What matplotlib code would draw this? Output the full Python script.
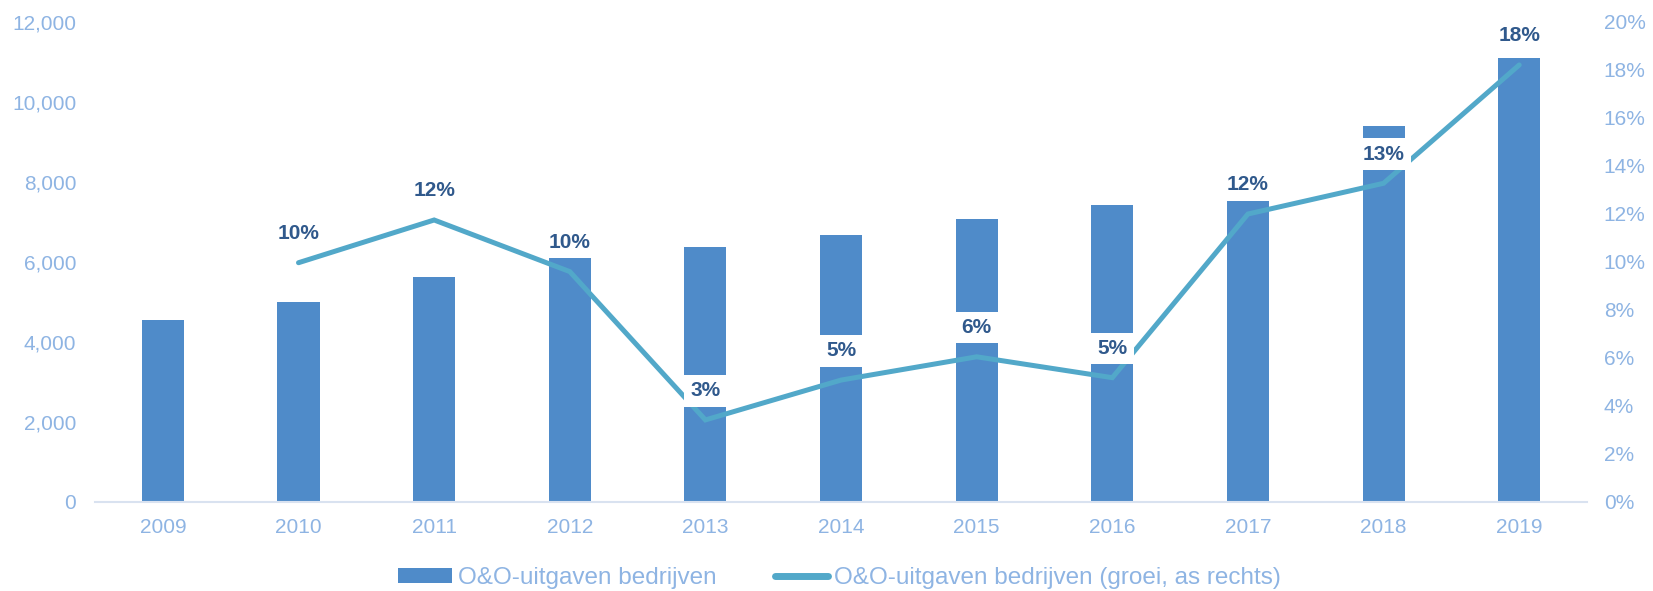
import matplotlib
matplotlib.use("Agg")
from matplotlib import pyplot as plt
from matplotlib.ticker import FuncFormatter, MultipleLocator

# jaren op de x-as
years = ['2009', '2010', '2011', '2012', '2013', '2014',
         '2015', '2016', '2017', '2018', '2019']
# O&O-uitgaven bedrijven (linker as)
uitgaven = [4550, 5000, 5610, 6150, 6360, 6670, 7070, 7420, 8200, 9380, 11090]
# groei t.o.v. vorig jaar (rechter as), 2009 heeft geen groeicijfer
groei_jaren = years[1:]
groei = [0.0995, 0.1173, 0.0958, 0.0340, 0.0506, 0.0603, 0.0516, 0.1198, 0.1326, 0.1819]
groei_labels = ['10%', '12%', '10%', '3%', '5%', '6%', '5%', '12%', '13%', '18%']

bar_color = '#4F8BC9'
line_color = '#52A8C9'
tick_color = '#8EB4E3'
label_color = '#30598C'
font = ['Liberation Sans', 'DejaVu Sans']
plt.rcParams['font.family'] = font

fig = plt.figure(figsize=(16.53, 5.91), dpi=100)
ax = fig.add_axes([0.0575, 0.1514, 0.9026, 0.8122])
ax2 = ax.twinx()

bars = ax.bar(years, uitgaven, width=0.31, color=bar_color, zorder=2)
line, = ax2.plot(groei_jaren, groei, color=line_color, lw=3.6,
                 solid_capstyle='round', solid_joinstyle='miter', zorder=2)

# labels met witte achtergrond, net als in excel
for yr, g, lab in zip(groei_jaren, groei, groei_labels):
    ax2.annotate(lab, (yr, g), xytext=(0, 21), textcoords='offset points',
                 ha='center', va='center', fontsize=15, fontweight='bold',
                 color=label_color, zorder=5,
                 bbox=dict(boxstyle='square,pad=0.3', fc='white', ec='none'))

ax.set_xlim(-0.5, 10.5)
ax.set_ylim(0, 12000)
ax2.set_ylim(0, 0.2)
ax.yaxis.set_major_locator(MultipleLocator(2000))
ax2.yaxis.set_major_locator(MultipleLocator(0.02))
ax.yaxis.set_major_formatter(FuncFormatter(lambda v, p: '{:,.0f}'.format(v)))
ax2.yaxis.set_major_formatter(FuncFormatter(lambda v, p: '{:.0f}%'.format(v * 100)))

for s in ['top', 'left', 'right']:
    ax.spines[s].set_visible(False)
    ax2.spines[s].set_visible(False)
ax2.spines['bottom'].set_visible(False)
ax.spines['bottom'].set_color('#D9E2F0')
ax.spines['bottom'].set_linewidth(1.5)

ax.tick_params(axis='x', length=0, pad=12, colors=tick_color, labelsize=15)
ax.tick_params(axis='y', length=0, pad=13.5, colors=tick_color, labelsize=15)
ax2.tick_params(axis='y', length=0, pad=12, colors=tick_color, labelsize=15)

leg = fig.legend([bars, line],
                 ['O&O-uitgaven bedrijven', 'O&O-uitgaven bedrijven (groei, as rechts)'],
                 loc='center', bbox_to_anchor=(0.508, 0.022), ncol=2, frameon=False,
                 fontsize=17.5, handlelength=2.2, handleheight=0.55,
                 handletextpad=0.25, columnspacing=2.4, labelcolor=tick_color)
for l in leg.get_lines():
    l.set_linewidth(5)

fig.savefig('out.png', dpi=100)
